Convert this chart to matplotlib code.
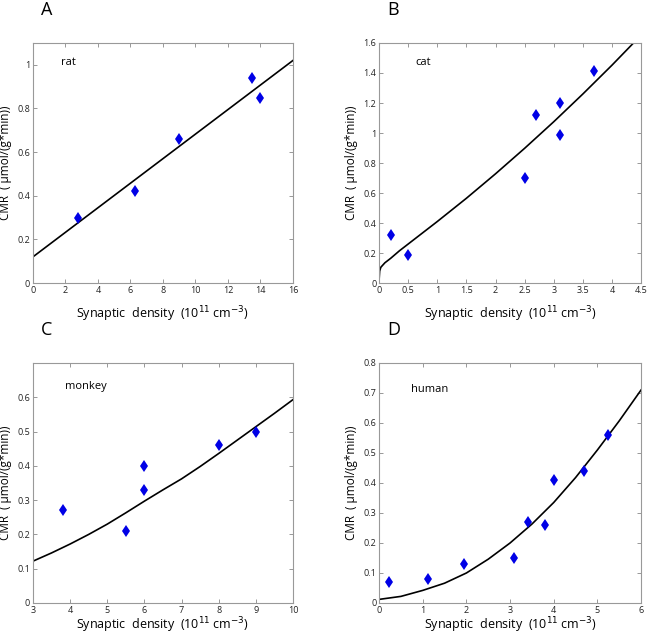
import numpy as np
import matplotlib.pyplot as plt

# panel A: rat
rat_x = [2.8, 6.3, 9.0, 13.5, 14.0]
rat_y = [0.30, 0.42, 0.66, 0.94, 0.85]
rat_fit_x = [0, 16]
rat_fit_y = [0.12, 1.02]

# panel B: cat
cat_x = [0.2, 0.5, 2.5, 2.7, 3.1, 3.1, 3.7]
cat_y = [0.32, 0.19, 0.70, 1.12, 1.20, 0.99, 1.41]
cat_fit_x = [0, 0.01, 0.03, 0.1, 0.2, 0.35, 0.5, 0.75, 1, 1.5, 2, 2.5, 3, 3.5, 4, 4.37]
cat_fit_y = [0.02, 0.08, 0.105, 0.135, 0.165, 0.215, 0.26, 0.335, 0.41, 0.565,
             0.728, 0.898, 1.075, 1.26, 1.452, 1.60]

# panel C: monkey
monkey_x = [3.8, 5.5, 6.0, 6.0, 8.0, 9.0]
monkey_y = [0.27, 0.21, 0.40, 0.33, 0.46, 0.50]
monkey_fit_x = [3, 3.5, 4, 4.5, 5, 5.5, 6, 6.5, 7, 7.5, 8, 8.5, 9, 9.5, 10]
monkey_fit_y = [0.122, 0.146, 0.172, 0.200, 0.230, 0.263, 0.297, 0.330, 0.362,
                0.398, 0.436, 0.475, 0.514, 0.553, 0.593]

# panel D: human
human_x = [0.22, 1.12, 1.95, 3.1, 3.4, 3.8, 4.0, 4.7, 5.25]
human_y = [0.07, 0.08, 0.13, 0.15, 0.27, 0.26, 0.41, 0.44, 0.56]
human_fit_x = [0, 0.5, 1, 1.5, 2, 2.5, 3, 3.5, 4, 4.5, 5, 5.5, 6]
human_fit_y = [0.012, 0.022, 0.042, 0.066, 0.100, 0.146, 0.200, 0.263, 0.335,
               0.418, 0.510, 0.607, 0.710]

panels = [
    ("A", "rat", rat_x, rat_y, rat_fit_x, rat_fit_y, (0, 16), (0, 1.1),
     np.arange(0, 17, 2), [0, 0.2, 0.4, 0.6, 0.8, 1.0], (0.108, 0.92)),
    ("B", "cat", cat_x, cat_y, cat_fit_x, cat_fit_y, (0, 4.5), (0, 1.6),
     np.arange(0, 4.6, 0.5), np.arange(0, 1.61, 0.2), (0.137, 0.917)),
    ("C", "monkey", monkey_x, monkey_y, monkey_fit_x, monkey_fit_y, (3, 10), (0, 0.7),
     np.arange(3, 11, 1), np.arange(0, 0.61, 0.1), (0.123, 0.90)),
    ("D", "human", human_x, human_y, human_fit_x, human_fit_y, (0, 6), (0, 0.8),
     np.arange(0, 7, 1), np.arange(0, 0.81, 0.1), (0.122, 0.8875)),
]

positions = [
    [0.0509, 0.555, 0.4012, 0.3774],
    [0.585, 0.555, 0.4043, 0.3774],
    [0.0509, 0.0519, 0.4012, 0.3774],
    [0.585, 0.0519, 0.4043, 0.3774],
]
xlabel_pads = [7, 7, 0.5, 0.5]

plt.rcParams['font.family'] = ['Open Sans', 'DejaVu Sans']


def fmt(v):
    return '%g' % round(v, 2)


fig = plt.figure(figsize=(6.48, 6.36), dpi=100)

for (letter, name, px, py, fx, fy, xlim, ylim, xt, yt, tpos), pos, lp in zip(panels, positions, xlabel_pads):
    ax = fig.add_axes(pos)
    ax.plot(fx, fy, color='k', lw=1.2)
    ax.plot(px, py, 'd', color=(0, 0, 0.9), markersize=6.5, markeredgewidth=0)
    ax.set_xlim(*xlim)
    ax.set_ylim(*ylim)
    ax.set_xticks(xt)
    ax.set_xticklabels([fmt(v) for v in xt])
    ax.set_yticks(yt)
    ax.set_yticklabels([fmt(v) for v in yt])
    ax.tick_params(direction='in', top=True, right=True, length=3, width=0.6,
                   color='#888888', labelsize=6.5, pad=2, labelcolor='#222222')
    for s in ax.spines.values():
        s.set_color('#999999')
        s.set_linewidth(0.8)
    ax.set_xlabel('Synaptic  density  (10$^{11}$ cm$^{-3}$)', fontsize=9, labelpad=lp)
    ax.set_ylabel('CMR  ( \u00b5mol/(g*min))', fontsize=8.5, labelpad=4)
    ax.text(tpos[0], tpos[1], name, transform=ax.transAxes, fontsize=8,
            ha='left', va='center')
    # panel letter
    lx = pos[0] + 0.012
    ly = pos[1] + pos[3] + 0.052
    fig.text(lx, ly, letter, fontsize=13, ha='left', va='center')

fig.savefig('out.png', dpi=100)
